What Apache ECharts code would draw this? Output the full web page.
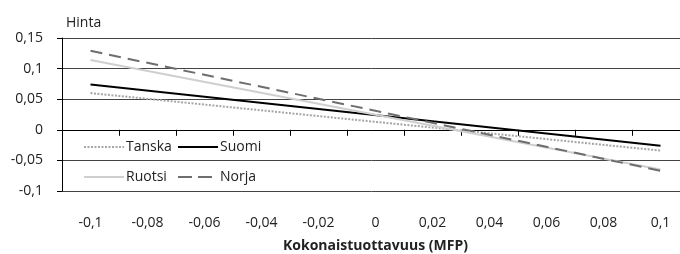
<!DOCTYPE html>
<html><head><meta charset="utf-8">
<script src="https://cdn.jsdelivr.net/npm/echarts@6/dist/echarts.min.js"></script>
<style>html,body{margin:0;padding:0;background:#fff}#c{width:680px;height:254px}</style>
</head><body><div id="c"></div>
<script>
// categories (MFP)
const categories = ['-0,1','-0,08','-0,06','-0,04','-0,02','0','0,02','0,04','0,06','0,08','0,1'];
// series values: only endpoints are read (lines are straight), nulls connected
const tanska = [0.060, null, null, null, null, null, null, null, null, null, -0.034];
const suomi  = [0.074, null, null, null, null, null, null, null, null, null, -0.026];
const ruotsi = [0.114, null, null, null, null, null, null, null, null, null, -0.065];
const norja  = [0.129, null, null, null, null, null, null, null, null, null, -0.067];
const seriesNames = ['Tanska','Suomi','Ruotsi','Norja'];
const yTitle = 'Hinta';
const xTitle = 'Kokonaistuottavuus (MFP)';

const FONT = '"Open Sans", sans-serif';
const fmt = v => String(Math.round(v*100)/100).replace('.', ',');

function mkSeries(name, data, color, type, width){
  return {name, type:'line', data, connectNulls:true, symbol:'none', showSymbol:false, silent:true,
    lineStyle:{color, width, type}, itemStyle:{color}, z:3};
}
function mkLegend(name, left, top, extra){
  return Object.assign({data:[name], left, top, padding:0, itemWidth:40, itemHeight:12, itemGap:0,
    itemStyle:{opacity:0, borderWidth:0},
    textStyle:{fontFamily:FONT, fontSize:14, color:'#222', padding:[0,0,0,-3]}, selectedMode:false}, extra || {});
}
const chart = echarts.init(document.getElementById('c'), null, {renderer:'canvas'});
chart.setOption({
  animation:false,
  grid:{left:62, top:38, width:627, height:153, containLabel:false, outerBoundsMode:'none'},
  legend:[mkLegend('Tanska',83,140), mkLegend('Suomi',177,140), mkLegend('Ruotsi',83,170),
          mkLegend('Norja',177,170,{lineStyle:{type:[14,6]}})],
  xAxis:{type:'category', data:categories, boundaryGap:true,
    name:xTitle, nameLocation:'middle', nameGap:48,
    nameTextStyle:{fontFamily:FONT, fontSize:14, fontWeight:'bold', color:'#222'},
    axisLine:{lineStyle:{color:'#000', width:1}},
    axisTick:{show:true, length:6, lineStyle:{color:'#000'}},
    axisLabel:{fontFamily:FONT, fontSize:14, color:'#222', margin:25},
    splitLine:{show:false}},
  yAxis:{type:'value', min:-0.1, max:0.15, interval:0.05,
    name:yTitle, nameLocation:'end', nameGap:8,
    nameTextStyle:{fontFamily:FONT, fontSize:14, color:'#222', align:'left', padding:[0,0,0,4]},
    axisLine:{show:true, lineStyle:{color:'#000', width:1}},
    axisTick:{show:true, inside:false, length:5, lineStyle:{color:'#000'}},
    axisLabel:{fontFamily:FONT, fontSize:14, color:'#222', margin:19, formatter:fmt},
    splitLine:{show:true, lineStyle:{color:'#444', width:1}}},
  series:[
    mkSeries('Tanska', tanska, '#a6a6a6', [2,1.5], 2),
    mkSeries('Suomi', suomi, '#000000', 'solid', 2),
    mkSeries('Ruotsi', ruotsi, '#cfcfcf', 'solid', 2),
    mkSeries('Norja', norja, '#6e6e6e', [12,7], 2)
  ]
});
</script></body></html>
